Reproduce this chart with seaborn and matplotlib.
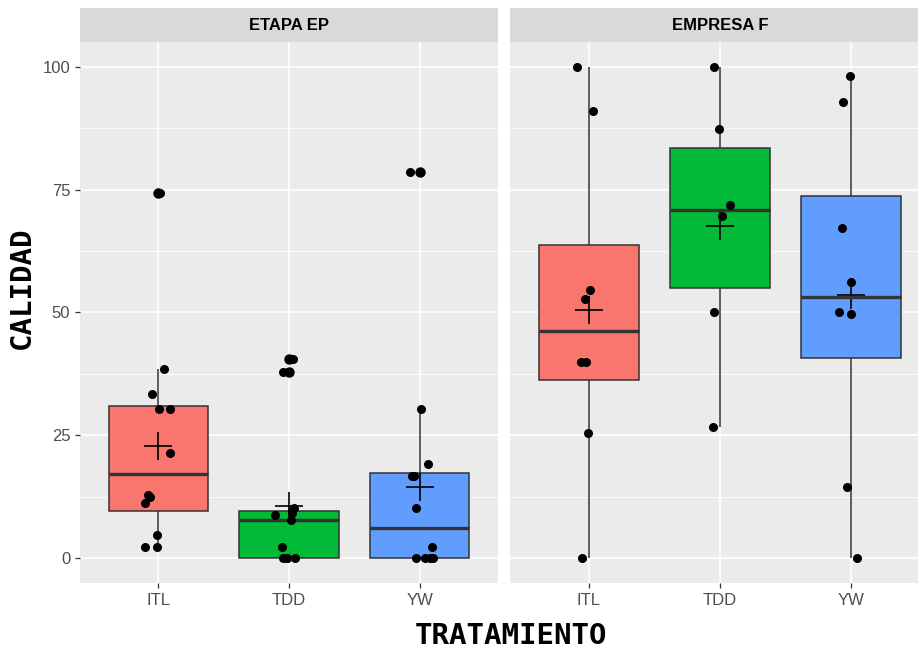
import matplotlib
matplotlib.use('Agg')
import matplotlib.pyplot as plt
import matplotlib.transforms as mtransforms
from matplotlib.ticker import FixedLocator, NullLocator
import numpy as np
import pandas as pd
import seaborn as sns

np.random.seed(3)

tratamientos = ['ITL', 'TDD', 'YW']
paneles = ['ETAPA EP', 'EMPRESA F']
colores = ['#F8766D', '#00BA38', '#619CFF']
y_ticks = [0, 25, 50, 75, 100]

# valores de CALIDAD
ep_itl = [74.3, 38.4, 33.3, 30.3, 30.3, 21.3, 12.8, 12.5, 11.1, 4.7, 2.2, 2.2]
ep_tdd = [40.5, 37.9, 10.1, 9.2, 8.8, 7.7, 2.3, 0, 0, 0, 0]
ep_yw = [78.7, 30.3, 19.1, 16.6, 16.6, 10.1, 2.3, 0, 0, 0, 0, 0]
f_itl = [100, 91.0, 54.6, 52.7, 39.9, 39.9, 25.4, 0]
f_tdd = [100, 87.4, 71.9, 69.7, 50.0, 26.7]
f_yw = [98.2, 92.9, 67.3, 56.3, 50.0, 49.6, 14.5, 0]

filas = []
for panel, grupos in zip(paneles, [[ep_itl, ep_tdd, ep_yw], [f_itl, f_tdd, f_yw]]):
    for trat, vals in zip(tratamientos, grupos):
        for v in vals:
            filas.append({'etapa': panel, 'TRATAMIENTO': trat, 'CALIDAD': v})
df = pd.DataFrame(filas)

W, H = 918, 651
fig = plt.figure(figsize=(W / 100, H / 100), dpi=100)

# posiciones de los paneles en pixeles (izq, ancho) ; el segundo queda cortado
paneles_px = [(80, 418, (-0.6, 2.6)), (510, 408, (-0.6, 2.51))]

for i, (panel, (x0, w, xl)) in enumerate(zip(paneles, paneles_px)):
    ax = fig.add_axes([x0 / W, 68 / H, w / W, 541 / H])
    sub = df[df['etapa'] == panel]

    sns.boxplot(data=sub, x='TRATAMIENTO', y='CALIDAD', hue='TRATAMIENTO',
                order=tratamientos, hue_order=tratamientos, palette=colores,
                saturation=1, width=0.76, linecolor='#333333', linewidth=1.1,
                showcaps=False, fliersize=6.5,
                flierprops={'marker': 'o', 'markerfacecolor': 'black',
                            'markeredgecolor': 'black'},
                medianprops={'linewidth': 2.4},
                legend=False, ax=ax)
    sns.pointplot(data=sub, x='TRATAMIENTO', y='CALIDAD', order=tratamientos,
                  estimator='mean', errorbar=None, color='black', marker='+',
                  linestyle='none', markersize=20, markeredgewidth=1.2, ax=ax)
    sns.stripplot(data=sub, x='TRATAMIENTO', y='CALIDAD', order=tratamientos,
                  color='black', size=6.5, jitter=0.11, linewidth=0,
                  zorder=3, ax=ax)

    ax.set_xlim(*xl)
    ax.set_ylim(-5.1, 105.1)
    ax.set_facecolor('#EBEBEB')
    ax.set_axisbelow(True)
    ax.yaxis.set_major_locator(FixedLocator(y_ticks))
    ax.yaxis.set_minor_locator(FixedLocator([12.5, 37.5, 62.5, 87.5]))
    ax.xaxis.set_minor_locator(NullLocator())
    ax.grid(which='major', color='white', linewidth=1.2)
    ax.grid(which='minor', axis='y', color='white', linewidth=0.6)
    for s in ax.spines.values():
        s.set_visible(False)
    ax.tick_params(which='major', length=3.5, width=0.9, color='#333333',
                   labelcolor='#4D4D4D', labelsize=12)
    ax.tick_params(which='minor', length=0)
    ax.set_xlabel('')
    ax.set_ylabel('')
    if i == 1:
        ax.tick_params(axis='y', length=0, labelleft=False)
    for t in ax.get_xticklabels() + ax.get_yticklabels():
        t.set_fontfamily('Liberation Sans')

    # franja del titulo del panel
    st = fig.add_axes([x0 / W, 609 / H, w / W, 34 / H])
    st.set_facecolor('#D9D9D9')
    st.set_xlim(*xl)
    st.set_xticks([])
    st.set_yticks([])
    for s in st.spines.values():
        s.set_visible(False)
    tr = mtransforms.blended_transform_factory(st.transData, st.transAxes)
    st.text(1, 0.5, panel, transform=tr, ha='center', va='center',
            fontsize=12, fontweight='bold', family='Liberation Sans',
            color='black')

fig.text(511 / W, 15 / H, 'TRATAMIENTO', ha='center', va='center',
         fontsize=21, fontweight='bold', family='DejaVu Sans Mono')
fig.text(22 / W, 363 / H, 'CALIDAD', ha='center', va='center', rotation=90,
         fontsize=21, fontweight='bold', family='DejaVu Sans Mono')

fig.savefig('out.png', dpi=100)
